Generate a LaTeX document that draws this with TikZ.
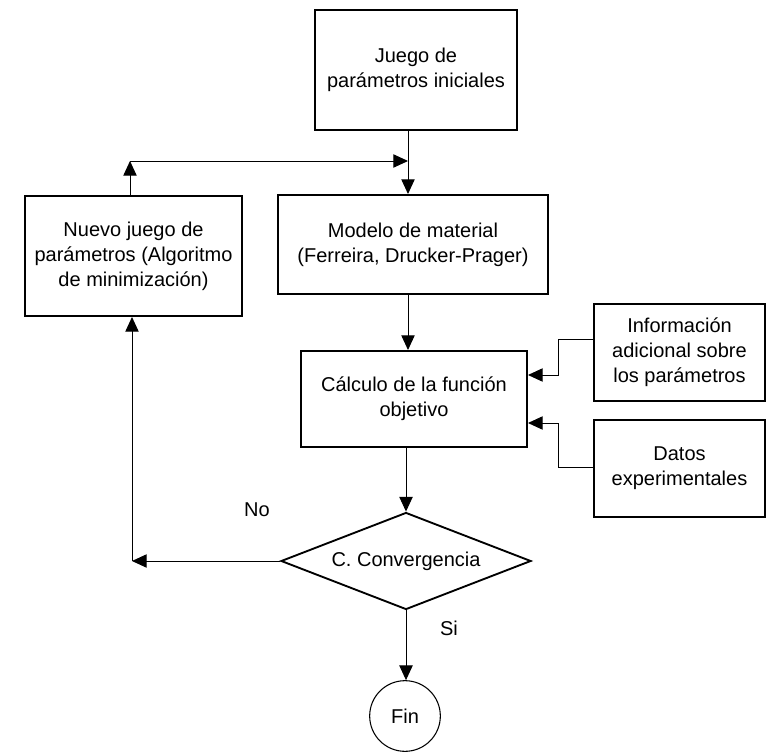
\documentclass[tikz,border=0pt]{standalone}
\usepackage{fontspec}
\setmainfont{Liberation Sans}
\usetikzlibrary{shapes.geometric, arrows.meta, positioning}

\begin{document}
\begin{tikzpicture}[
    x=0.75pt, y=-0.75pt,
    >={Triangle[length=11pt, width=10pt]},
    font=\fontsize{15}{18.75}\selectfont,
    box/.style={rectangle, draw=black, line width=1.5pt, align=center, inner sep=0pt},
    test/.style={diamond, draw=black, line width=1.4pt, aspect=2.58, inner sep=0pt, minimum width=187.5pt, minimum height=72.75pt},
    term/.style={circle, draw=black, line width=0.8pt, inner sep=0pt, minimum size=53pt},
    link/.style={->, line width=0.7pt}
]
\useasboundingbox (0,0) rectangle (766,752);

% Nodes
\node[box, minimum width=151.5pt, minimum height=90pt] (juego) at (416,70) {Juego de\\par\'ametros iniciales};
\node[box, minimum width=202.5pt, minimum height=74.25pt] (modelo) at (413,244.5) {Modelo de material\\(Ferreira, Drucker-Prager)};
\node[box, minimum width=162.75pt, minimum height=90pt] (nuevo) at (133.5,256) {Nuevo juego de\\par\'ametros (Algoritmo\\de minimizaci\'on)};
\node[box, minimum width=169.5pt, minimum height=72pt] (calc) at (414,399) {C\'alculo de la funci\'on\\objetivo};
\node[box, minimum width=128.25pt, minimum height=72.75pt] (info) at (679.5,352.5) {Informaci\'on\\adicional sobre\\los par\'ametros};
\node[box, minimum width=128.25pt, minimum height=72.75pt] (datos) at (679.5,468.5) {Datos\\experimentales};
\node[test] (conv) at (406,561) {C. Convergencia};
\node[term] (fin) at (405,716) {Fin};
\node (no) at (257,510) {No};
\node (si) at (449,628) {Si};

% Corners
\coordinate (merge) at (408,161);
\coordinate (upcorner) at (130,161);
\coordinate (nocorner) at (132,561);
\coordinate (ia) at (558,339);
\coordinate (ib) at (558,375);
\coordinate (da) at (558,467);
\coordinate (db) at (558,423);

% Links
\draw[link] (juego.south -| merge) -- (modelo.north -| merge);
\draw[link] (nuevo.north -| upcorner) -- (upcorner);
\draw[link] (upcorner) -- (merge);
\draw[link] (modelo.south -| merge) -- (calc.north -| merge);
\draw[link] (info.west |- ia) -- (ia) -- (ib) -- (calc.east |- ib);
\draw[link] (datos.west |- da) -- (da) -- (db) -- (calc.east |- db);
\draw[link] (calc.south -| conv.north) -- (conv.north);
\draw[link] (conv.south) -- (fin.north -| conv.south);
\draw[link] (conv.west) -- (nocorner);
\draw[link] (nocorner) -- (nuevo.south -| nocorner);

\end{tikzpicture}
\end{document}
